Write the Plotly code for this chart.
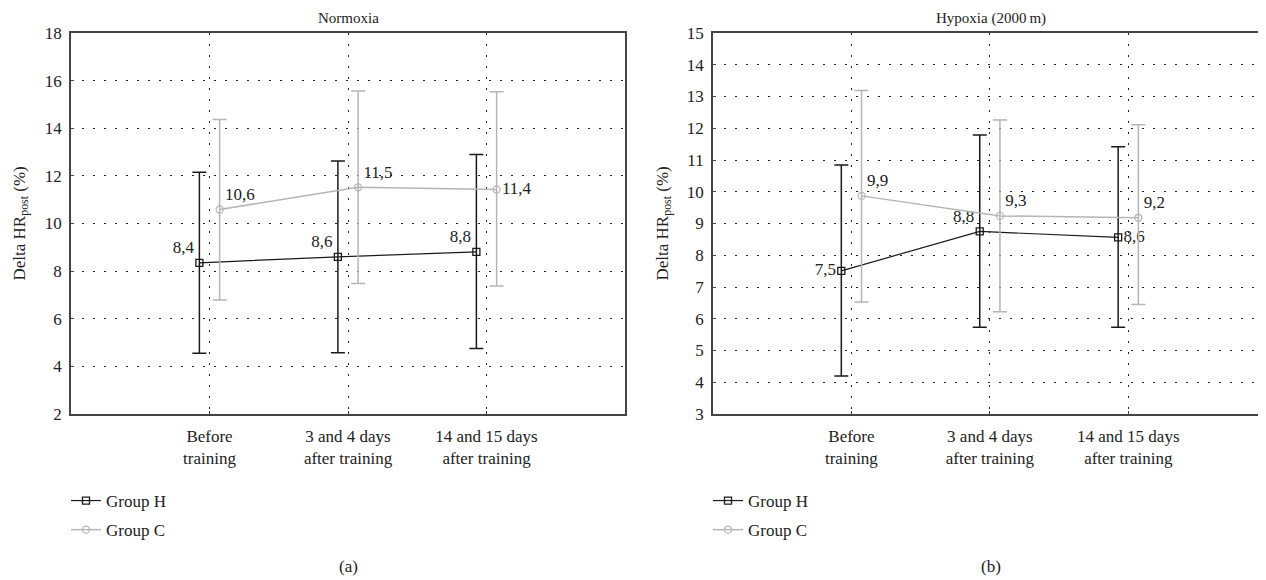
import plotly.graph_objects as go

categories = ["Before<br>training", "3 and 4 days<br>after training", "14 and 15 days<br>after training"]
cat_pos = [1, 2, 3]

# Normoxia (a)
norm_H_mean = [8.35, 8.60, 8.81]
norm_H_upper = [12.15, 12.62, 12.90]
norm_H_lower = [4.55, 4.57, 4.75]
norm_H_labels = ["8,4", "8,6", "8,8"]
norm_C_mean = [10.59, 11.52, 11.43]
norm_C_upper = [14.37, 15.56, 15.53]
norm_C_lower = [6.79, 7.48, 7.38]
norm_C_labels = ["10,6", "11,5", "11,4"]

# Hypoxia (b)
hyp_H_mean = [7.51, 8.75, 8.56]
hyp_H_upper = [10.84, 11.79, 11.42]
hyp_H_lower = [4.20, 5.73, 5.73]
hyp_H_labels = ["7,5", "8,8", "8,6"]
hyp_C_mean = [9.87, 9.24, 9.18]
hyp_C_upper = [13.19, 12.26, 12.11]
hyp_C_lower = [6.53, 6.22, 6.45]
hyp_C_labels = ["9,9", "9,3", "9,2"]

offset = 0.073
FONT = "Liberation Serif"
BLACK = "#1a1a1a"
GRAY = "#b5b5b5"
FS = 17

# page body has an 8px margin; lay out in screen pixels and shift
PAD = 8
W, H = 1266 - PAD, 580 - PAD


def px(xs):
    return (xs - PAD) / W


def py(ys):
    return 1 - (ys - PAD) / H


fig = go.Figure()


def add_group(name, xpos, mean, upper, lower, labels, textpos, color, symbol, xa, ya, legend, lw, group):
    fig.add_trace(go.Scatter(
        x=xpos, y=mean, name=name, xaxis=xa, yaxis=ya, legend=legend, legendgroup=group,
        mode="lines+markers+text", text=labels, textposition=textpos,
        textfont=dict(family=FONT, size=FS, color="#222"),
        line=dict(color=color, width=lw),
        marker=dict(symbol=symbol, size=7, color=color, line=dict(color=color, width=1.3)),
        error_y=dict(type="data", symmetric=False,
                     array=[u - m for u, m in zip(upper, mean)],
                     arrayminus=[m - l for m, l in zip(mean, lower)],
                     color=color, thickness=1.5, width=7),
        cliponaxis=False,
    ))


xH = [c - offset for c in cat_pos]
xC = [c + offset for c in cat_pos]

add_group("Group H", xH, norm_H_mean, norm_H_upper, norm_H_lower, norm_H_labels,
          ["top left", "top left", "top left"], BLACK, "square-open", "x", "y", "legend", 1.2, "aH")
add_group("Group C", xC, norm_C_mean, norm_C_upper, norm_C_lower, norm_C_labels,
          ["top right", "top right", "middle right"], GRAY, "circle-open", "x", "y", "legend", 1.5, "aC")
add_group("Group H", xH, hyp_H_mean, hyp_H_upper, hyp_H_lower, hyp_H_labels,
          ["middle left", "top left", "middle right"], BLACK, "square-open", "x2", "y2", "legend2", 1.2, "bH")
add_group("Group C", xC, hyp_C_mean, hyp_C_upper, hyp_C_lower, hyp_C_labels,
          ["top right", "top right", "top right"], GRAY, "circle-open", "x2", "y2", "legend2", 1.5, "bC")

ydom = [py(414), py(33)]

axis_common = dict(
    showgrid=True, gridcolor="#222", griddash="2px,9px", gridwidth=1.2,
    showline=True, linecolor="#444", linewidth=1.8, mirror=True,
    ticks="inside", ticklen=3, tickcolor="#444", automargin=False,
    tickfont=dict(family=FONT, size=FS, color="#222"), zeroline=False,
)

leg_common = dict(xanchor="left", yanchor="top", font=dict(family=FONT, size=FS, color="#222"),
                  bgcolor="rgba(0,0,0,0)", traceorder="grouped", tracegroupgap=4)

fig.update_layout(
    width=W, height=H, margin=dict(l=0, r=0, t=0, b=0, autoexpand=False),
    paper_bgcolor="white", plot_bgcolor="white",
    xaxis=dict(domain=[px(71), px(625)], range=[0, 4], tickvals=cat_pos, ticktext=categories,
               anchor="y", ticklabelstandoff=6, **axis_common),
    yaxis=dict(domain=ydom, range=[2, 18], dtick=2, anchor="x", ticklabelstandoff=4, **axis_common),
    xaxis2=dict(domain=[px(713), 1.0], range=[0, 3.995], tickvals=cat_pos, ticktext=categories,
                anchor="y2", ticklabelstandoff=6, **axis_common),
    yaxis2=dict(domain=ydom, range=[3, 15], dtick=1, anchor="x2", ticklabelstandoff=4, **axis_common),
    legend=dict(x=px(66), y=py(483), **leg_common),
    legend2=dict(x=px(708), y=py(483), **leg_common),
    showlegend=True,
)


def ann(text, xs, ys, size=FS, angle=0):
    fig.add_annotation(text=text, x=px(xs), y=py(ys), xref="paper", yref="paper",
                       xanchor="center", yanchor="middle", showarrow=False, textangle=angle,
                       font=dict(family=FONT, size=size, color="#222"))


ycenter = (33 + 414) / 2
ann("Normoxia", 348, 18, size=15)
ann("Hypoxia (2000\u2009m)", 991, 18, size=15)
ann("Delta HR<sub>post</sub> (%)", 20, ycenter, angle=-90)
ann("Delta HR<sub>post</sub> (%)", 663, ycenter, angle=-90)
ann("(a)", 348, 566)
ann("(b)", 991, 566)

fig.write_html("out.html")
